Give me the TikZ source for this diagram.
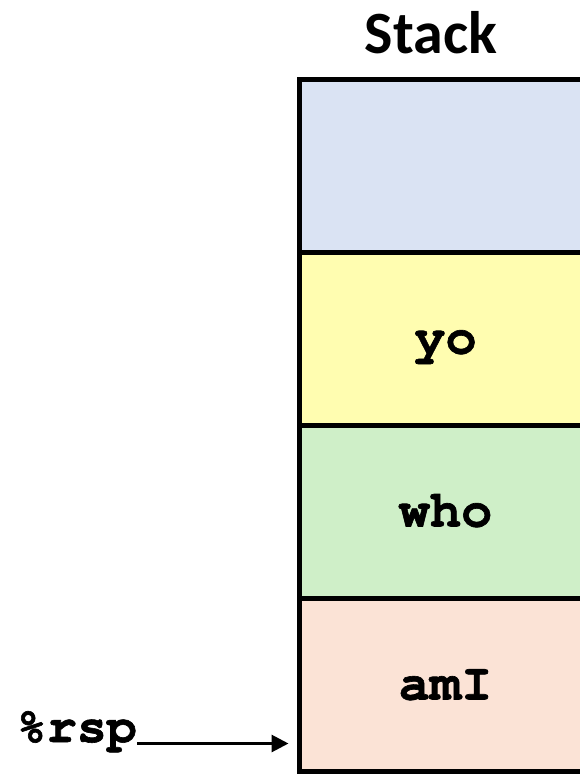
\documentclass[tikz,border=0pt]{standalone}
\usepackage{fontspec}
\setmainfont{Carlito}
\newfontfamily\codefont[BoldFeatures={FakeBold=1.2}]{TeX Gyre Cursor}
\usetikzlibrary{arrows.meta}
\definecolor{cellblue}{HTML}{DAE3F3}
\definecolor{cellyellow}{HTML}{FFFDB0}
\definecolor{cellgreen}{HTML}{CFEFC8}
\definecolor{cellpink}{HTML}{FBE3D6}
\tikzset{
  cell/.style={draw, line width=5pt, anchor=north west, inner sep=0pt, outer sep=0pt,
    minimum width=292pt, minimum height=173pt, text height=30pt, text depth=0pt,
    font=\codefont\bfseries\fontsize{52}{52}\selectfont},
  ptr/.style={-{Triangle[length=17pt,width=17pt]}, line width=3pt, shorten >=11pt}
}

\begin{document}
\begin{tikzpicture}[x=1pt,y=-1pt]
\useasboundingbox (0,0) rectangle (580,774);
\clip (0,0) rectangle (580,774);
\node[anchor=base, inner sep=0pt, font=\bfseries\fontsize{60}{60}\selectfont] (title) at (431,53) {Stack};
% stack frames, top to bottom
\node[cell, fill=cellblue] (empty) at (299.5,79) {};
\node[cell, fill=cellyellow] (yo) at (299.5,252) {yo};
\node[cell, fill=cellgreen] (who) at (299.5,425) {who};
\node[cell, fill=cellpink] (amI) at (299.5,598) {amI};
% stack pointer
\node[anchor=base east, inner sep=0pt, font=\codefont\bfseries\fontsize{50}{50}\selectfont] (rsp) at (137,742) {\%rsp};
\draw[ptr] ([yshift=-1.5pt]rsp.base east) -- ([yshift=-1.5pt]rsp.base east -| amI.west);
\end{tikzpicture}
\end{document}
